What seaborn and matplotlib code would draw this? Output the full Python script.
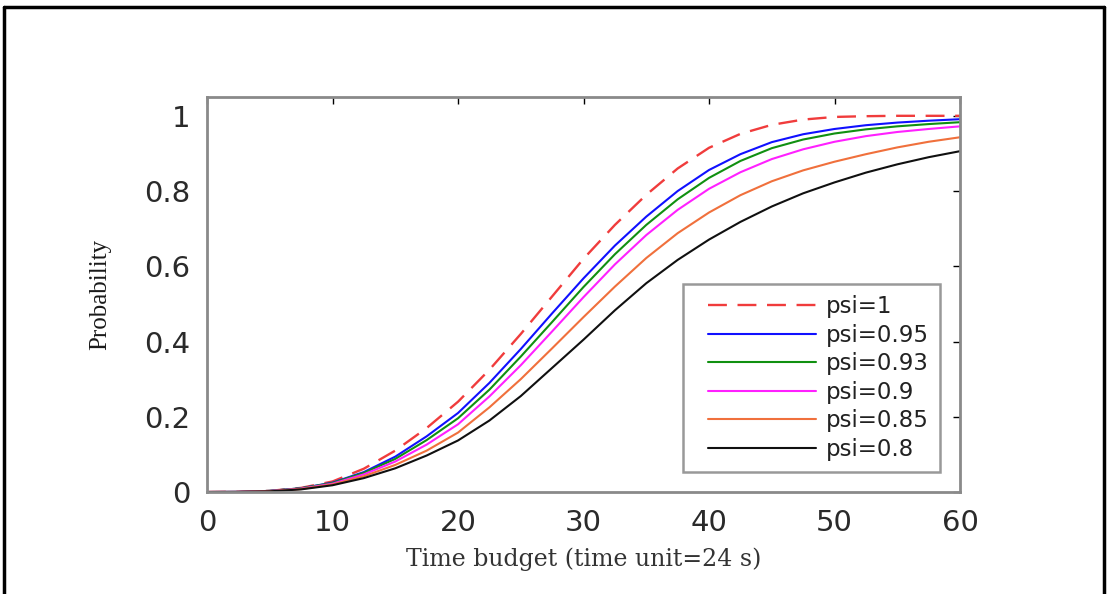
import numpy as np
import pandas as pd
import matplotlib
matplotlib.use("Agg")
import matplotlib.pyplot as plt
import seaborn as sns
from matplotlib.lines import Line2D
from matplotlib.legend_handler import HandlerLine2D

# ---- data ----
time_budget = [0, 2.5, 5, 7.5, 10, 12.5, 15, 17.5, 20, 22.5, 25, 27.5, 30,
               32.5, 35, 37.5, 40, 42.5, 45, 47.5, 50, 52.5, 55, 57.5, 60]
p_psi_1 = [0, 0.0005, 0.003, 0.011, 0.028, 0.062, 0.11, 0.17, 0.24, 0.325, 0.42, 0.52, 0.62,
           0.71, 0.79, 0.86, 0.915, 0.952, 0.976, 0.99, 0.997, 0.999, 1.0, 1.0, 1.0]
p_psi_095 = [0, 0.0004, 0.003, 0.010, 0.025, 0.053, 0.094, 0.148, 0.21, 0.29, 0.38, 0.475, 0.568,
             0.655, 0.732, 0.80, 0.856, 0.898, 0.93, 0.951, 0.965, 0.975, 0.982, 0.987, 0.991]
p_psi_093 = [0, 0.0004, 0.003, 0.010, 0.024, 0.051, 0.088, 0.138, 0.196, 0.272, 0.36, 0.452, 0.545,
             0.632, 0.71, 0.778, 0.835, 0.88, 0.914, 0.937, 0.953, 0.964, 0.972, 0.978, 0.983]
p_psi_090 = [0, 0.0003, 0.0025, 0.009, 0.022, 0.047, 0.081, 0.126, 0.18, 0.254, 0.337, 0.427, 0.518,
             0.605, 0.683, 0.75, 0.806, 0.85, 0.885, 0.911, 0.931, 0.946, 0.957, 0.965, 0.972]
p_psi_085 = [0, 0.0003, 0.002, 0.008, 0.020, 0.042, 0.072, 0.11, 0.158, 0.225, 0.30, 0.382, 0.465,
             0.546, 0.622, 0.688, 0.743, 0.789, 0.826, 0.855, 0.878, 0.898, 0.916, 0.931, 0.943]
p_psi_080 = [0, 0.0002, 0.0018, 0.007, 0.018, 0.037, 0.063, 0.097, 0.137, 0.19, 0.255, 0.33, 0.405,
             0.483, 0.555, 0.617, 0.671, 0.718, 0.759, 0.794, 0.823, 0.849, 0.871, 0.89, 0.906]

labels = ["psi=1", "psi=0.95", "psi=0.93", "psi=0.9", "psi=0.85", "psi=0.8"]
series = [p_psi_1, p_psi_095, p_psi_093, p_psi_090, p_psi_085, p_psi_080]
colors = ["#f03c3c", "#1010ff", "#109010", "#ff20ff", "#f0703c", "#101010"]
xticks = [0, 10, 20, 30, 40, 50, 60]
yticks = [0, 0.2, 0.4, 0.6, 0.8, 1.0]
ytick_labels = ["0", "0.2", "0.4", "0.6", "0.8", "1"]

sns.set_style("white")
plt.rcParams['font.family'] = ['DejaVu Sans']

fig = plt.figure(figsize=(11.10, 5.94), dpi=100)
ax = fig.add_axes([0.1865, 0.1717, 0.6784, 0.665])

for lab, vals, col in zip(labels, series, colors):
    df = pd.DataFrame({"t": time_budget, "p": vals})
    sns.lineplot(data=df, x="t", y="p", ax=ax, color=col, linewidth=1.5, label=lab)
    if lab == "psi=1":
        ax.lines[-1].set_linewidth(1.7)
        ax.lines[-1].set_dashes([8, 4.5])

ax.set_xlim(0, 60)
ax.set_ylim(0, 1.05)
ax.set_xticks(xticks)
ax.set_yticks(yticks)
ax.set_yticklabels(ytick_labels)
ax.tick_params(axis="both", which="both", direction="in", length=5, width=1,
               colors="black", labelsize=21, top=True, right=True,
               labelcolor="#2a2a2a")
ax.tick_params(axis="x", pad=12)
ax.tick_params(axis="y", pad=12)
for s in ax.spines.values():
    s.set_color("#8a8a8a")
    s.set_linewidth(2)

ax.set_xlabel("Time budget (time unit=24 s)", fontsize=17,
              family=["DejaVu Serif"], color="#333333", labelpad=8)
ax.set_ylabel("Probability", fontsize=18,
              family=["Liberation Serif", "DejaVu Serif"], color="#1a1a1a", labelpad=24)

xpad = 0.55
leg = ax.legend(loc="lower right", bbox_to_anchor=(0.9734, 0.0506), fontsize=16.5,
                frameon=True, fancybox=False, handlelength=4.75 + xpad, handletextpad=0.4,
                labelspacing=0.24, borderpad=0.5, borderaxespad=0,
                handler_map={Line2D: HandlerLine2D(xpad=xpad)})
leg.get_frame().set_edgecolor("#808080")
leg.get_frame().set_linewidth(1.8)
for t in leg.get_texts():
    t.set_color("#222222")

# outer image border (top, left, right)
for xs, ys in [([0.004, 0.004], [0, 0.988]), ([0.995, 0.995], [0, 0.988]),
               ([0.004, 0.995], [0.988, 0.988])]:
    fig.add_artist(plt.Line2D(xs, ys, transform=fig.transFigure,
                              color="black", linewidth=2.5))

fig.savefig("out.png", dpi=100)
